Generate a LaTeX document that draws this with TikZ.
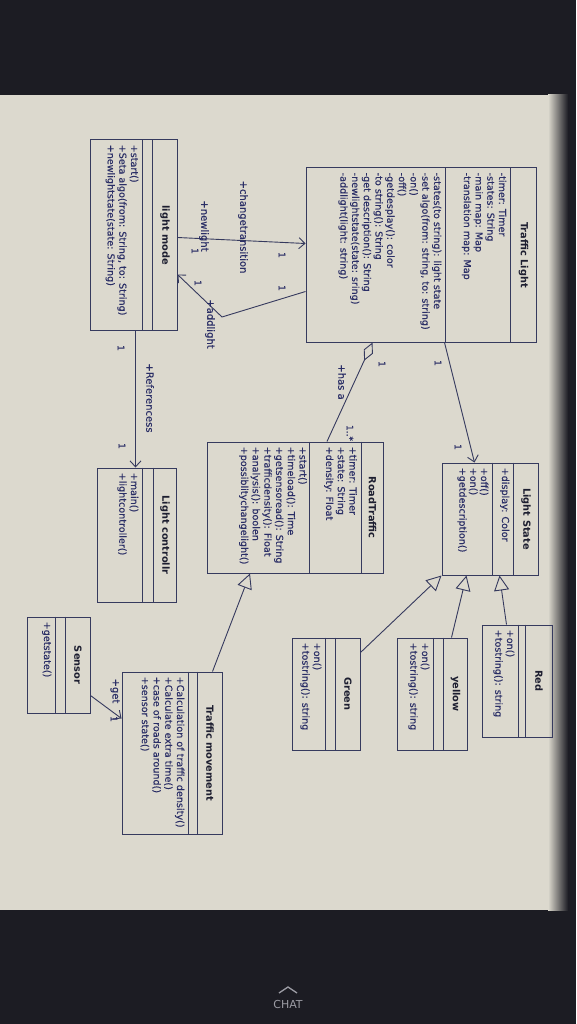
\documentclass[tikz,border=0pt]{standalone}
\usepackage{fontspec}
\setmainfont{DejaVu Sans}
\newfontfamily\umlfont{DejaVu Sans}[FakeBold=0.35]
\usetikzlibrary{arrows.meta, calc}
\definecolor{paper}   {HTML}{DCD9CE}
\definecolor{bezel}   {HTML}{1C1C23}
\definecolor{umlline} {HTML}{363A5E}
\definecolor{umltext} {HTML}{2A2E66}
\definecolor{umltitle}{HTML}{1D1E30}
\definecolor{chatgrey}{HTML}{9C9CA4}

\begin{document}
\begin{tikzpicture}[x=1pt, y=-1pt,
  % one unit is one pixel of the photo and y runs downward; the screen was
  % photographed on its side, so every text is turned a quarter clockwise
  classbox/.style={draw=umlline, line width=1pt, inner sep=0pt},
  classname/.style={rotate=-90, font=\bfseries\fontsize{9.8}{11}\selectfont, text=umltitle},
  members/.style={rotate=-90, anchor=north west, align=left, inner sep=0pt,
                  font=\umlfont\fontsize{9.6}{11.7}\selectfont, text=umltext},
  mult/.style={rotate=-90, font=\umlfont\fontsize{9}{10}\selectfont, text=umltext, inner sep=1pt},
  role/.style={rotate=-90, font=\umlfont\fontsize{10}{11}\selectfont, text=umltext, inner sep=1pt},
  link/.style={draw=umlline, line width=0.9pt},
  nav/.style={link, -{Straight Barb[length=6pt, width=11pt]}},
  inherit/.style={link, -{Triangle[length=15pt, width=15pt, fill=paper]}},
  aggr/.style={link, {Diamond[length=20pt, width=10pt, fill=paper]}-}
]

% --- screen and photo edges ---------------------------------------------------
\fill[bezel] (0,0) rectangle (576,1024);
\fill[paper] (0,95) rectangle (548,910);
\shade[left color=paper, right color=bezel] (548,95) rectangle (568,910);
\node[font=\fontsize{11}{13}\selectfont, text=chatgrey] (chat) at (288,1004) {CHAT};
\draw[chatgrey, line width=1.3pt] (279,993) -- (288,987) -- (297,993);

% --- Traffic Light --------------------------------------------------------------
\node[classbox, minimum width=230, minimum height=174] (tl) at (421,255) {};
\draw[link] ($(tl.north east)+(-26,0)$) -- ($(tl.south east)+(-26,0)$);
\draw[link] ($(tl.north east)+(-91,0)$) -- ($(tl.south east)+(-91,0)$);
\node[classname] (tl-name) at ($(tl.east)+(-13,0)$) {Traffic Light};
\node[members] (tl-attr) at ($(tl.north east)+(-30,5)$)
  {-timer: Timer\\-states: String\\-main map: Map\\-translation map: Map};
\node[members] (tl-ops) at ($(tl.north east)+(-95,5)$)
  {-states(to string): light state\\-set algo(from: string, to: string)\\-on()\\-off()\\
   -getdesplay(): color\\-to string(): String\\-get description(): String\\
   -newlightstate(state: sring)\\-addlight(light: string)};

% --- light mode -------------------------------------------------------------------
\node[classbox, minimum width=87, minimum height=190] (lm) at (133.5,235) {};
\draw[link] ($(lm.north east)+(-25,0)$) -- ($(lm.south east)+(-25,0)$);
\draw[link] ($(lm.north east)+(-35,0)$) -- ($(lm.south east)+(-35,0)$);
\node[classname] (lm-name) at ($(lm.east)+(-12.5,0)$) {light mode};
\node[members] (lm-ops) at ($(lm.north east)+(-39,5)$)
  {+start()\\+Seta algo(from: String, to: String)\\+newlightstate(state: String)};

% --- Light State ------------------------------------------------------------------
\node[classbox, minimum width=96, minimum height=112] (ls) at (490,519) {};
\draw[link] ($(ls.north east)+(-25,0)$) -- ($(ls.south east)+(-25,0)$);
\draw[link] ($(ls.north east)+(-46,0)$) -- ($(ls.south east)+(-46,0)$);
\node[classname] (ls-name) at ($(ls.east)+(-12.5,0)$) {Light State};
\node[members] (ls-attr) at ($(ls.north east)+(-29,5)$) {+display: Color};
\node[members, font=\umlfont\fontsize{9.6}{10.8}\selectfont] (ls-ops) at ($(ls.north east)+(-50,5)$)
  {+off()\\+on()\\+getdescription()};

% --- RoadTraffic ------------------------------------------------------------------
\node[classbox, minimum width=176, minimum height=131] (rt) at (295.5,507.5) {};
\draw[link] ($(rt.north east)+(-23,0)$) -- ($(rt.south east)+(-23,0)$);
\draw[link] ($(rt.north east)+(-75,0)$) -- ($(rt.south east)+(-75,0)$);
\node[classname] (rt-name) at ($(rt.east)+(-11.5,0)$) {RoadTraffic};
\node[members] (rt-attr) at ($(rt.north east)+(-27,5)$)
  {+timer: Timer\\+state: String\\+density: Float};
\node[members] (rt-ops) at ($(rt.north east)+(-77,5)$)
  {+start()\\+timeload(): Time\\+getsensoread(): String\\+trafficdensity(): Float\\
   +analysis(): boolen\\+possiblitychangelight()};

% --- Light controllr --------------------------------------------------------------
\node[classbox, minimum width=79, minimum height=134] (lc) at (136.5,535) {};
\draw[link] ($(lc.north east)+(-23,0)$) -- ($(lc.south east)+(-23,0)$);
\draw[link] ($(lc.north east)+(-34,0)$) -- ($(lc.south east)+(-34,0)$);
\node[classname] (lc-name) at ($(lc.east)+(-11.5,0)$) {Light controllr};
\node[members] (lc-ops) at ($(lc.north east)+(-38,5)$) {+main()\\+lightcontroller()};

% --- Red, yellow, Green -----------------------------------------------------------
\node[classbox, minimum width=70, minimum height=112] (red) at (517,681) {};
\draw[link] ($(red.north east)+(-27,0)$) -- ($(red.south east)+(-27,0)$);
\draw[link] ($(red.north east)+(-34,0)$) -- ($(red.south east)+(-34,0)$);
\node[classname] (red-name) at ($(red.east)+(-13.5,0)$) {Red};
\node[members] (red-ops) at ($(red.north east)+(-38,5)$) {+on()\\+tostring(): string};

\node[classbox, minimum width=70, minimum height=112] (yel) at (432,694) {};
\draw[link] ($(yel.north east)+(-24,0)$) -- ($(yel.south east)+(-24,0)$);
\draw[link] ($(yel.north east)+(-34,0)$) -- ($(yel.south east)+(-34,0)$);
\node[classname] (yel-name) at ($(yel.east)+(-12,0)$) {yellow};
\node[members] (yel-ops) at ($(yel.north east)+(-38,5)$) {+on()\\+tostring(): string};

\node[classbox, minimum width=68, minimum height=112] (grn) at (326,694) {};
\draw[link] ($(grn.north east)+(-25,0)$) -- ($(grn.south east)+(-25,0)$);
\draw[link] ($(grn.north east)+(-35,0)$) -- ($(grn.south east)+(-35,0)$);
\node[classname] (grn-name) at ($(grn.east)+(-12.5,0)$) {Green};
\node[members] (grn-ops) at ($(grn.north east)+(-39,5)$) {+on()\\+tostring(): string};

% --- Traffic movement -------------------------------------------------------------
\node[classbox, minimum width=100, minimum height=162] (tm) at (172,753) {};
\draw[link] ($(tm.north east)+(-25,0)$) -- ($(tm.south east)+(-25,0)$);
\draw[link] ($(tm.north east)+(-34,0)$) -- ($(tm.south east)+(-34,0)$);
\node[classname] (tm-name) at ($(tm.east)+(-12.5,0)$) {Traffic movement};
\node[members] (tm-ops) at ($(tm.north east)+(-38,5)$)
  {+Calculation of traffic density()\\+Calculate extra time()\\+case of roads around()\\+sensor state()};

% --- Sensor -----------------------------------------------------------------------
\node[classbox, minimum width=63, minimum height=96] (sn) at (58.5,665) {};
\draw[link] ($(sn.north east)+(-25,0)$) -- ($(sn.south east)+(-25,0)$);
\draw[link] ($(sn.north east)+(-35,0)$) -- ($(sn.south east)+(-35,0)$);
\node[classname] (sn-name) at ($(sn.east)+(-12.5,0)$) {Sensor};
\node[members] (sn-ops) at ($(sn.north east)+(-39,5)$) {+getstate()};

% --- associations -----------------------------------------------------------------
\draw[nav] ($(tl.south west)+(139,0)$) -- ($(ls.north west)+(33,0)$);
\node[mult] (m-tlls-a) at (438,363) {1};
\node[mult] (m-tlls-b) at (458,447) {1};

\draw[aggr] ($(tl.south west)+(67,0)$) -- ($(rt.north west)+(120,0)$);
\node[mult] (m-has-a) at (382,364) {1};
\node[mult] (m-has-b) at (350,433) {1..*};
\node[role] (r-has) at (342,382) {+has a};

\draw[nav] ($(lm.south west)+(46,0)$) -- ($(lc.north west)+(39,0)$);
\node[mult] (m-ref-a) at (121,348) {1};
\node[mult] (m-ref-b) at (122,446) {1};
\node[role] (r-ref) at (150,398) {+Referencess};

\draw[nav] ($(lm.north east)+(0,98)$) -- ($(tl.north west)+(0,76)$);
\node[role] (r-chg) at (243,227) {+changetransition};
\node[role] (r-new) at (204,226) {+newlight};
\node[mult] (m-new) at (195,251) {1};
\node[mult] (m-chg) at (282,255) {1};

\coordinate (addbend) at (222,317);
\draw[nav] ($(tl.north west)+(0,124)$) -- (addbend) -- ($(lm.north east)+(0,135)$);
\node[mult] (m-add-a) at (282,288) {1};
\node[mult] (m-add-b) at (198,283) {1};
\node[role] (r-add) at (210,324) {+addlight};

\draw[nav] ($(sn.north east)+(0,79)$) -- ($(tm.north west)+(0,47)$);
\node[role] (r-get) at (115,691) {+get};
\node[mult] (m-get) at (114,719) {1};

% --- generalisations --------------------------------------------------------------
\draw[inherit] ($(red.north west)+(25,0)$) -- ($(ls.south west)+(58,0)$);
\draw[inherit] ($(yel.north west)+(55,0)$) -- ($(ls.south west)+(25,0)$);
\draw[inherit] ($(grn.north east)+(0,15)$) -- (ls.south west);
\draw[inherit] ($(tm.north west)+(91,0)$) -- ($(rt.south west)+(43,0)$);

\end{tikzpicture}
\end{document}
